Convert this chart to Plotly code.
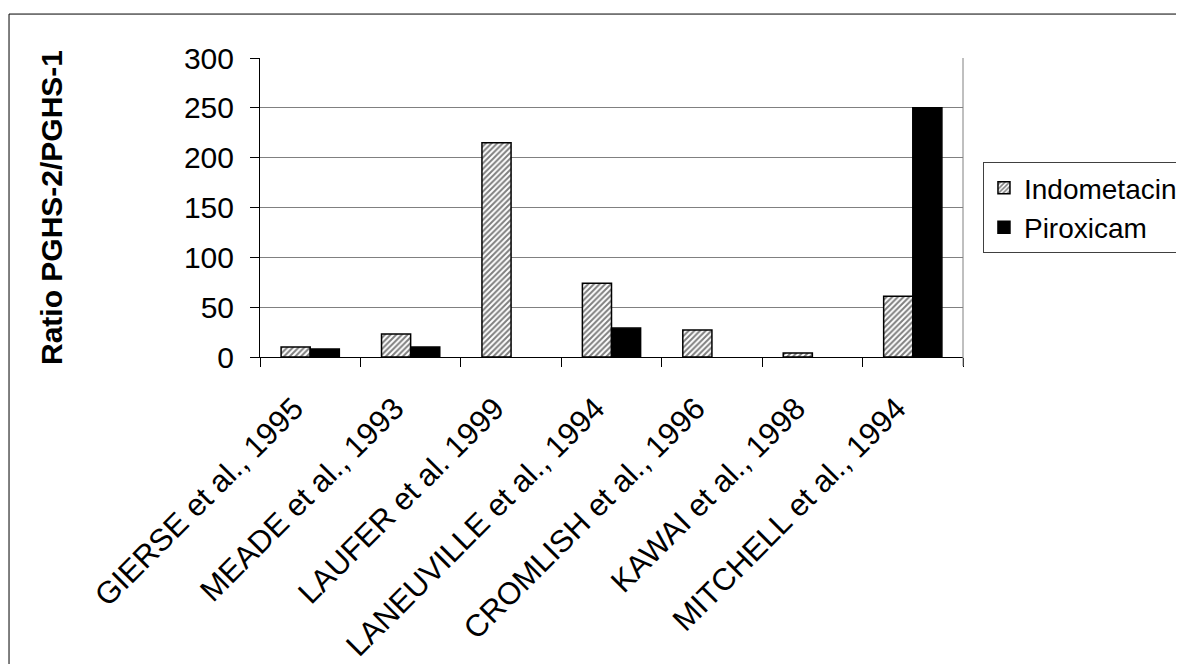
import plotly.graph_objects as go

categories = [
    "GIERSE et al., 1995",
    "MEADE et al., 1993",
    "LAUFER et al. 1999",
    "LANEUVILLE et al., 1994",
    "CROMLISH et al., 1996",
    "KAWAI et al., 1998",
    "MITCHELL et al., 1994",
]
indometacin = [10, 23, 215, 74, 27, 4, 61]
piroxicam = [8, 10, None, 29, None, None, 250]
y_ticks = [0, 50, 100, 150, 200, 250, 300]

FONT = "Arial, Liberation Sans, sans-serif"

fig = go.Figure()
fig.add_trace(go.Bar(
    name="Indometacin", x=categories, y=indometacin,
    marker=dict(color="white", line=dict(color="black", width=1.5),
                pattern=dict(shape="/", fgcolor="black", bgcolor="white",
                             size=4, solidity=0.5)),
))
fig.add_trace(go.Bar(
    name="Piroxicam", x=categories, y=piroxicam,
    marker=dict(color="black", line=dict(color="black", width=1.5)),
))

# page body has an 8px margin, so the figure is 8px smaller and shifted
fig.update_layout(
    width=1176, height=656,
    margin=dict(l=252, r=221, t=50, b=307, autoexpand=False),
    paper_bgcolor="white", plot_bgcolor="white",
    barmode="group", bargap=0.42, bargroupgap=0,
    font=dict(family=FONT, size=30, color="black"),
    showlegend=True,
    legend=dict(x=1.0284, y=0.652, xanchor="left", yanchor="top",
                bgcolor="white", bordercolor="#404040", borderwidth=1,
                font=dict(size=28)),
    xaxis=dict(type="category", tickson="boundaries", ticks="outside",
               ticklen=9, tickcolor="black", showline=True, linecolor="black",
               tickangle=-45, showgrid=False, automargin=False,
               ticklabelstandoff=20, ticklabelshift=-16,
               tickfont=dict(size=31)),
    yaxis=dict(range=[0, 300], tickvals=y_ticks, showgrid=True,
               gridcolor="#808080", gridwidth=1, zeroline=False,
               ticks="outside", ticklen=9, tickcolor="black",
               showline=True, linecolor="black", automargin=False,
               ticklabelstandoff=10,
               tickfont=dict(size=30),
               title=dict(text="Ratio PGHS-2/PGHS-1", standoff=112,
                          font=dict(size=30, weight="bold"))),
    shapes=[
        dict(type="line", xref="paper", yref="paper", x0=1, x1=1,
             y0=-0.03, y1=1, line=dict(color="#808080", width=1)),
        dict(type="rect", xref="paper", yref="paper", x0=-0.357, x1=1.33,
             y0=-1.1, y1=1.147, line=dict(color="black", width=1)),
    ],
)

fig.write_html("out.html")
